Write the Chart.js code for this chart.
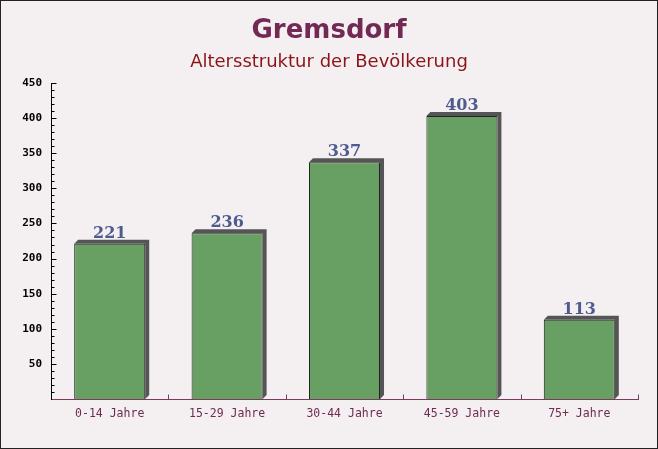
<!DOCTYPE html>
<html>
<head>
<meta charset="utf-8">
<script src="https://cdn.jsdelivr.net/npm/chart.js@4.4.0/dist/chart.umd.min.js"></script>
<style>
  html, body { margin: 0; padding: 0; background: #f4f0f2; }
  #wrap { width: 658px; height: 449px; position: relative; }
</style>
</head>
<body>
<div id="wrap"><canvas id="chart" width="658" height="449"></canvas></div>
<script>
const categories = ['0-14 Jahre', '15-29 Jahre', '30-44 Jahre', '45-59 Jahre', '75+ Jahre'];
const values = [221, 236, 337, 403, 113];
const yTicks = [50, 100, 150, 200, 250, 300, 350, 400, 450];

const titleText = 'Gremsdorf';
const subtitleText = 'Altersstruktur der Bevölkerung';

// Hintergrund, Titel, Schatten, Werte und Achsenstriche
const decor = {
    id: 'decor',
    beforeDraw(chart) {
        const ctx = chart.ctx;
        ctx.save();
        ctx.fillStyle = '#f4f0f2';
        ctx.fillRect(0, 0, chart.width, chart.height);
        ctx.strokeStyle = '#222';
        ctx.lineWidth = 1;
        ctx.strokeRect(0.5, 0.5, chart.width - 1, chart.height - 1);

        ctx.textAlign = 'center';
        ctx.textBaseline = 'middle';
        ctx.fillStyle = '#722a55';
        ctx.font = 'bold 26px "DejaVu Sans"';
        ctx.fillText(titleText, chart.width / 2, 31);
        ctx.fillStyle = '#8b1418';
        ctx.font = '18px "DejaVu Sans"';
        ctx.fillText(subtitleText, chart.width / 2, 62);
        ctx.restore();
    },
    beforeDatasetsDraw(chart) {
        const ctx = chart.ctx;
        const meta = chart.getDatasetMeta(0);
        ctx.save();
        ctx.fillStyle = '#555';
        meta.data.forEach(bar => {
            const half = bar.width / 2;
            const l = bar.x - half, r = bar.x + half, t = bar.y, b = bar.base;
            ctx.beginPath();
            ctx.moveTo(l, t);
            ctx.lineTo(l + 4, t - 4);
            ctx.lineTo(r + 4, t - 4);
            ctx.lineTo(r + 4, b - 4);
            ctx.lineTo(r, b);
            ctx.lineTo(r, t);
            ctx.closePath();
            ctx.fill();
        });
        ctx.restore();
    },
    afterDatasetsDraw(chart) {
        const ctx = chart.ctx;
        const meta = chart.getDatasetMeta(0);
        const ys = chart.scales.y, xs = chart.scales.x;
        ctx.save();
        ctx.fillStyle = '#4f5b8d';
        ctx.font = 'bold 16px "DejaVu Serif"';
        ctx.textAlign = 'center';
        ctx.textBaseline = 'alphabetic';
        meta.data.forEach((bar, i) => {
            ctx.fillText(String(values[i]), bar.x, bar.y - 6);
        });

        // y-Achse: Striche nach innen
        ctx.strokeStyle = '#000';
        ctx.lineWidth = 1;
        const x0 = Math.round(ys.right) + 0.5;
        for (let v = 10; v <= 450; v += 10) {
            const y = Math.round(ys.getPixelForValue(v)) + 0.5;
            const len = v % 50 === 0 ? 5 : 3;
            ctx.beginPath();
            ctx.moveTo(x0, y);
            ctx.lineTo(x0 + len, y);
            ctx.stroke();
        }
        // x-Achse: Striche zwischen den Kategorien
        ctx.strokeStyle = '#7a3b5e';
        const yb = Math.round(xs.top) + 0.5;
        const step = xs.getPixelForValue(1) - xs.getPixelForValue(0);
        for (let i = 0; i < categories.length; i++) {
            const x = Math.round(xs.getPixelForValue(i) + step / 2) + 0.5;
            ctx.beginPath();
            ctx.moveTo(x, yb);
            ctx.lineTo(x, yb - 5);
            ctx.stroke();
        }
        ctx.restore();
    }
};

new Chart(document.getElementById('chart').getContext('2d'), {
    type: 'bar',
    data: {
        labels: categories,
        datasets: [{
            data: values,
            backgroundColor: '#67a062',
            borderColor: '#222',
            borderWidth: 1,
            barPercentage: 0.605,
            categoryPercentage: 1
        }]
    },
    options: {
        responsive: false,
        animation: false,
        layout: { padding: { top: 83, right: 20, left: 0, bottom: 0 } },
        plugins: { legend: { display: false }, tooltip: { enabled: false } },
        scales: {
            x: {
                grid: { display: false },
                border: { display: true, color: '#7a3b5e', width: 1 },
                ticks: {
                    color: '#6e2b52',
                    font: { family: '"DejaVu Sans Mono"', size: 11.5 },
                    padding: 0
                },
                afterFit(scale) { scale.height = 50; }
            },
            y: {
                min: 0,
                max: 450,
                afterBuildTicks(scale) { scale.ticks = yTicks.map(v => ({ value: v })); },
                grid: { display: false },
                border: { display: true, color: '#000', width: 1 },
                ticks: {
                    color: '#000',
                    font: { family: '"DejaVu Sans Mono"', size: 11, weight: 'bold' },
                    padding: 1
                },
                afterFit(scale) { scale.width = 51; }
            }
        }
    },
    plugins: [decor]
});
</script>
</body>
</html>
